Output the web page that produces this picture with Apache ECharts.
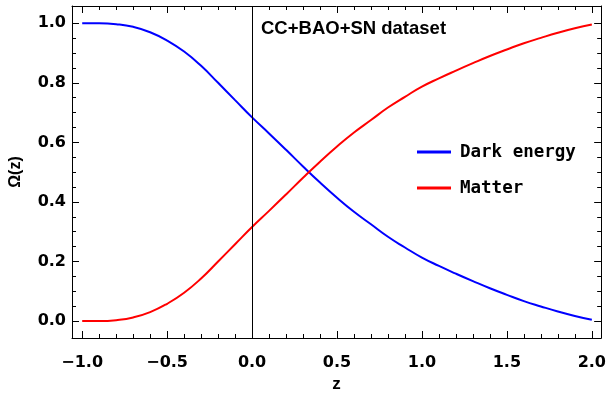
<!DOCTYPE html>
<html>
<head>
<meta charset="utf-8">
<script src="https://cdn.jsdelivr.net/npm/echarts@6/dist/echarts.min.js"></script>
<style>
    html, body { margin: 0; padding: 0; background: #fff; }
    #chart { width: 609px; height: 399px; }
</style>
</head>
<body>
<div id="chart"></div>
<script>
    // redshift samples
    let zValues = [-1.0, -0.9, -0.8, -0.7, -0.6, -0.5, -0.4, -0.3, -0.2, -0.1,
        0.0, 0.1, 0.2, 0.3, 0.4, 0.5, 0.6, 0.7, 0.8, 0.9,
        1.0, 1.1, 1.2, 1.3, 1.4, 1.5, 1.6, 1.7, 1.8, 1.9, 2.0];
    let darkEnergy = [1.000, 1.000, 0.997, 0.988, 0.970, 0.942, 0.905, 0.857, 0.800, 0.742,
        0.684, 0.630, 0.575, 0.519, 0.465, 0.414, 0.367, 0.325, 0.283, 0.247,
        0.213, 0.185, 0.159, 0.134, 0.110, 0.088, 0.067, 0.049, 0.032, 0.017, 0.004];
    let matter = [0.000, 0.000, 0.003, 0.012, 0.030, 0.058, 0.095, 0.143, 0.200, 0.258,
        0.316, 0.370, 0.425, 0.481, 0.535, 0.586, 0.633, 0.675, 0.717, 0.753,
        0.787, 0.815, 0.841, 0.866, 0.890, 0.912, 0.933, 0.951, 0.968, 0.983, 0.996];

    let xMajor = [-1.0, -0.5, 0.0, 0.5, 1.0, 1.5, 2.0];
    let xMinor = [-1.0, -0.9, -0.8, -0.7, -0.6, -0.5, -0.4, -0.3, -0.2, -0.1,
        0.0, 0.1, 0.2, 0.3, 0.4, 0.5, 0.6, 0.7, 0.8, 0.9,
        1.0, 1.1, 1.2, 1.3, 1.4, 1.5, 1.6, 1.7, 1.8, 1.9, 2.0];
    let yMajor = [0.0, 0.2, 0.4, 0.6, 0.8, 1.0];
    let yMinor = [0.0, 0.05, 0.1, 0.15, 0.2, 0.25, 0.3, 0.35, 0.4, 0.45, 0.5,
        0.55, 0.6, 0.65, 0.7, 0.75, 0.8, 0.85, 0.9, 0.95, 1.0];

    let xMin = -1.06, xMax = 2.055;
    let yMin = -0.057, yMax = 1.058;

    let labelFont = {
        fontFamily: 'DejaVu Sans',
        fontWeight: 'bold',
        fontSize: 16,
        color: '#000'
    };

    function fmt(v) {
        return v.toFixed(1).replace('-', '\u2212');
    }

    // one axis per tick set, so major and minor ticks get their own length
    function xAx(pos, ticks, len, withLabel, withLine) {
        return {
            type: 'value',
            position: pos,
            min: xMin,
            max: xMax,
            axisLine: { show: withLine, onZero: false, lineStyle: { color: '#000', width: 1 } },
            axisTick: { inside: true, length: len, customValues: ticks, lineStyle: { color: '#000', width: 1 } },
            axisLabel: withLabel ? Object.assign({ customValues: xMajor, margin: 17, formatter: fmt }, labelFont) : { show: false },
            splitLine: { show: false }
        };
    }
    function yAx(pos, ticks, len, withLabel, withLine) {
        return {
            type: 'value',
            position: pos,
            min: yMin,
            max: yMax,
            axisLine: { show: withLine, onZero: false, lineStyle: { color: '#000', width: 1 } },
            axisTick: { inside: true, length: len, customValues: ticks, lineStyle: { color: '#000', width: 1 } },
            axisLabel: withLabel ? Object.assign({ customValues: yMajor, margin: 6, formatter: fmt }, labelFont) : { show: false },
            splitLine: { show: false }
        };
    }

    let xAxes = [
        xAx('bottom', xMajor, 7, true, true),
        xAx('bottom', xMinor, 4, false, false),
        xAx('top', xMajor, 7, false, true),
        xAx('top', xMinor, 4, false, false)
    ];
    xAxes[0].name = 'z';
    xAxes[0].nameLocation = 'middle';
    xAxes[0].nameGap = 37;
    xAxes[0].nameTextStyle = { fontFamily: 'Liberation Sans', fontWeight: 'bold', fontSize: 17, color: '#000' };

    let yAxes = [
        yAx('left', yMajor, 7, true, true),
        yAx('left', yMinor, 4, false, false),
        yAx('right', yMajor, 7, false, true),
        yAx('right', yMinor, 4, false, false)
    ];
    yAxes[0].name = '\u03A9(z)';
    yAxes[0].nameLocation = 'middle';
    yAxes[0].nameGap = 48;
    yAxes[0].nameTextStyle = { fontFamily: 'Liberation Sans', fontWeight: 'bold', fontSize: 16, color: '#000' };

    let chart = echarts.init(document.getElementById('chart'));
    let option = {
        animation: false,
        backgroundColor: '#fff',
        title: {
            text: 'CC+BAO+SN dataset',
            left: 261,
            top: 19,
            padding: 0,
            textStyle: { fontFamily: 'Liberation Sans', fontWeight: 'bold', fontSize: 18.5, color: '#000' }
        },
        legend: {
            orient: 'vertical',
            left: 417,
            top: 142,
            padding: 0,
            itemWidth: 34,
            itemHeight: 3,
            itemGap: 16,
            icon: 'rect',
            textStyle: { fontFamily: 'DejaVu Sans Mono', fontWeight: 'bold', fontSize: 17.5, color: '#000', lineHeight: 20, padding: [0, 0, 0, 4] },
            data: ['Dark energy', 'Matter']
        },
        grid: { left: 72, top: 6, width: 535, height: 332 },
        xAxis: xAxes,
        yAxis: yAxes,
        series: [
            {
                name: 'Dark energy',
                type: 'line',
                xAxisIndex: 0,
                yAxisIndex: 0,
                showSymbol: false,
                smooth: 0.5,
                color: '#0000ff',
                lineStyle: { color: '#0000ff', width: 2 },
                data: zValues.map(function (z, i) { return [z, darkEnergy[i]]; }),
                markLine: {
                    silent: true,
                    symbol: 'none',
                    label: { show: false },
                    lineStyle: { color: '#000', width: 1, type: 'solid' },
                    data: [{ xAxis: 0 }]
                }
            },
            {
                name: 'Matter',
                type: 'line',
                xAxisIndex: 0,
                yAxisIndex: 0,
                showSymbol: false,
                smooth: 0.5,
                color: '#ff0000',
                lineStyle: { color: '#ff0000', width: 2 },
                data: zValues.map(function (z, i) { return [z, matter[i]]; })
            }
        ]
    };
    chart.setOption(option);
</script>
</body>
</html>
